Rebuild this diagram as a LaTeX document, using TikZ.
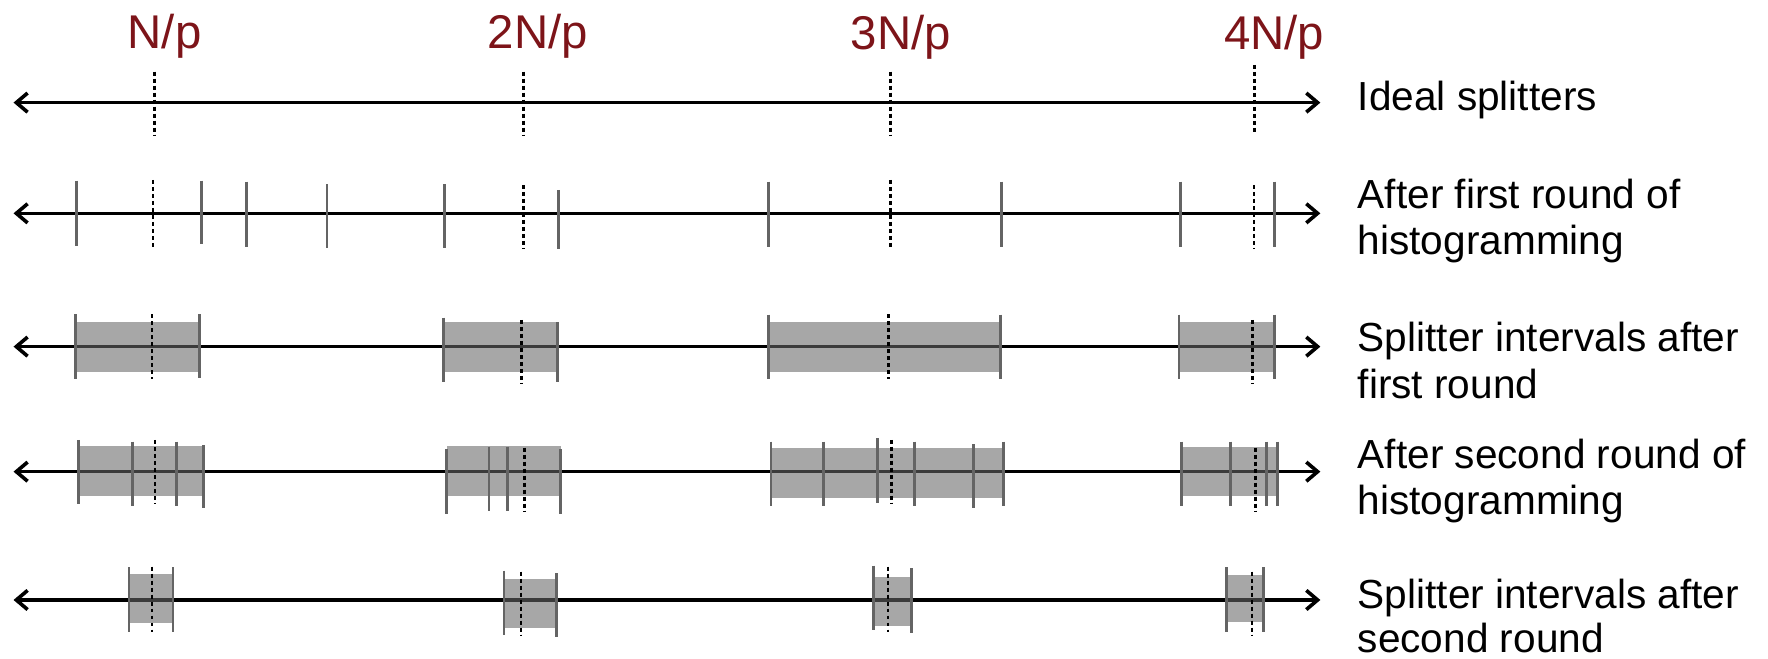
\documentclass[tikz,border=0pt]{standalone}
\usepackage{fontspec}
\setmainfont{Liberation Sans}
\usetikzlibrary{arrows.meta}
\definecolor{lblred}{RGB}{125,20,25}
\definecolor{tickgray}{RGB}{100,100,100}
\definecolor{bandgray}{RGB}{103,103,103}
\newcommand\mytick[3]{\draw[tickln] (#1,#2) -- (#1,#3);}
\newcommand\mydash[3]{\draw[splitln] (#1,#2) -- (#1,#3);}
\newcommand\myband[4]{\fill[bandfill] (#1,#3) rectangle (#2,#4);}
\tikzset{
  axisln/.style={line width=3.2pt, black, {Straight Barb[length=10pt,width=17pt]}-{Straight Barb[length=10pt,width=17pt]}},
  tickln/.style={line width=2.6pt, tickgray},
  splitln/.style={line width=2.3pt, black, dash pattern=on 3.5pt off 2.7pt},
  bandfill/.style={fill=bandgray, fill opacity=0.58},
  toplbl/.style={inner sep=0pt, anchor=base, text=lblred, font=\fontsize{42}{48}\selectfont},
  rowlbl/.style={inner sep=0pt, anchor=base west, font=\fontsize{36}{41}\selectfont}
}
\begin{document}
\begin{tikzpicture}[x=1pt,y=-1pt]
\useasboundingbox (0,0) rectangle (1568,584);
% top labels
\node[toplbl] (l1) at (146,42.8) {N/p};
\node[toplbl] (l2) at (477,43) {2N/p};
\node[toplbl] (l3) at (799,43.7) {3N/p};
\node[toplbl] (l4) at (1130,44.3) {4N/p};
% axis end points
\coordinate (a1L) at (12,91);   \coordinate (a1R) at (1171,91);
\coordinate (a2L) at (12,189.2); \coordinate (a2R) at (1171,189.2);
\coordinate (a3L) at (12,307.4); \coordinate (a3R) at (1171,307.4);
\coordinate (a4L) at (12,418.3); \coordinate (a4R) at (1171,418.3);
\coordinate (a5L) at (12,532.1); \coordinate (a5R) at (1171,532.1);
% row 1
\draw[axisln] (a1L) -- (a1R);
\mydash{137}{63.6}{119.7}
\mydash{464.5}{63.6}{119.7}
\mydash{790}{63.6}{119.7}
\mydash{1112.5}{57.6}{116.8}
% row 2
\draw[axisln] (a2L) -- (a2R);
\mytick{68}{160.2}{218.2}
\mytick{179}{160.2}{216.7}
\mytick{219}{161.1}{218.8}
\mytick{290}{163.5}{220.2}
\mytick{394}{163.5}{220.2}
\mytick{495}{168.5}{221.1}
\mytick{681.7}{161}{219}
\mytick{888.4}{161}{219}
\mytick{1046.8}{161}{219}
\mytick{1130.7}{161}{219}
\mydash{135.7}{159.6}{218.8}
\mydash{464.3}{164}{221}
\mydash{789.5}{159.6}{218.8}
\mydash{1112}{164}{221}
% row 3
\draw[axisln] (a3L) -- (a3R);
\myband{66.9}{177.2}{286}{329.6}
\myband{393.7}{494.2}{286}{329.6}
\myband{681.4}{887.2}{286}{329.6}
\myband{1045.6}{1129.9}{286}{329.6}
\mytick{66.9}{278.7}{336}
\mytick{177.2}{278.7}{335}
\mytick{393.7}{281.7}{338.5}
\mytick{494.2}{286}{338.5}
\mytick{681.4}{279}{336}
\mytick{887.2}{279}{336}
\mytick{1045.6}{279}{336}
\mytick{1129.9}{279}{336}
\mydash{134.7}{278.7}{336}
\mydash{462.6}{283.7}{340.6}
\mydash{787.9}{278.7}{336}
\mydash{1110.9}{283.7}{340.6}
% row 4
\draw[axisln] (a4L) -- (a4R);
\myband{69.6}{180.2}{395.5}{439.9}
\myband{396.1}{497.2}{395.5}{439.9}
\myband{683.8}{890}{397.6}{442}
\myband{1048}{1132.7}{396}{440}
\mytick{69.6}{390.2}{447}
\mytick{117.1}{391.7}{448.4}
\mytick{156.5}{391.7}{448.4}
\mytick{180.2}{394.6}{450.8}
\mytick{396.1}{398.6}{456}
\mytick{433.7}{396}{453.6}
\mytick{450.3}{396}{453.6}
\mytick{497.2}{398.6}{456}
\mytick{683.8}{391.7}{448.4}
\mytick{730}{391.7}{448.4}
\mytick{777.9}{388.8}{446.5}
\mytick{810.8}{391.7}{448.4}
\mytick{863.5}{393.8}{450.8}
\mytick{890}{391.7}{448.4}
\mytick{1048}{391.7}{448.4}
\mytick{1091.2}{391.7}{448.4}
\mytick{1123.6}{391.7}{448.4}
\mytick{1132.7}{391.7}{448.4}
\mydash{137.5}{390.2}{447}
\mydash{465}{397}{454.5}
\mydash{790.6}{390}{447.4}
\mydash{1113.3}{397}{454.5}
% row 5
\draw[axisln] (a5L) -- (a5R);
\myband{114.4}{153.4}{509}{552.8}
\myband{446}{493.8}{513.5}{557.2}
\myband{774.8}{808.1}{511.4}{555.1}
\myband{1087.5}{1120.8}{509.8}{551.4}
\mytick{114.4}{503}{560.2}
\mytick{153.4}{503}{560.2}
\mytick{447}{506}{563.1}
\mytick{493.8}{508.4}{565.2}
\mytick{774.8}{501.6}{558.7}
\mytick{808.1}{504}{561}
\mytick{1087.5}{503}{560.2}
\mytick{1120.8}{503}{560.2}
\mydash{134.7}{502.5}{560.2}
\mydash{462.2}{507}{564}
\mydash{787.5}{502.5}{560.2}
\mydash{1110.2}{507}{564}
% row labels
\node[rowlbl] (t1) at (1204,97.6) {Ideal splitters};
\node[rowlbl] (t2a) at (1204,184.7) {After first round of};
\node[rowlbl] (t2b) at (1204,226.1) {histogramming};
\node[rowlbl] (t3a) at (1204,311.9) {Splitter intervals after};
\node[rowlbl] (t3b) at (1204,353.3) {first round};
\node[rowlbl] (t4a) at (1204,415.3) {After second round of};
\node[rowlbl] (t4b) at (1204,456.7) {histogramming};
\node[rowlbl] (t5a) at (1204,539.5) {Splitter intervals after};
\node[rowlbl] (t5b) at (1204,578.5) {second round};
\end{tikzpicture}
\end{document}
